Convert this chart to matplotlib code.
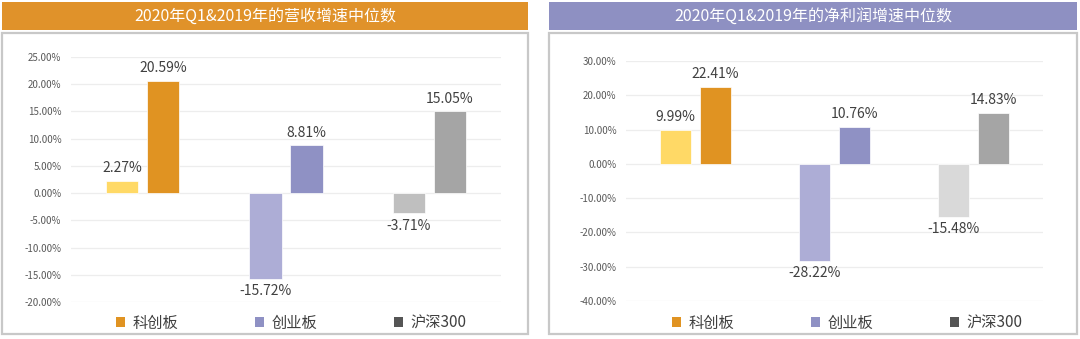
import numpy as np
import matplotlib
matplotlib.use("Agg")
import matplotlib.pyplot as plt
from matplotlib.patches import Rectangle, Patch
from matplotlib.ticker import FuncFormatter

plt.rcParams["font.family"] = ["Noto Sans CJK SC", "DejaVu Sans"]

# data (percent)
categories = ["科创板", "创业板", "沪深300"]
rev_2020q1 = [2.27, -15.72, -3.71]
rev_2019 = [20.59, 8.81, 15.05]
np_2020q1 = [9.99, -28.22, -15.48]
np_2019 = [22.41, 10.76, 14.83]

titles = ["2020年Q1&2019年的营收增速中位数", "2020年Q1&2019年的净利润增速中位数"]
rev_ticks = [-20, -15, -10, -5, 0, 5, 10, 15, 20, 25]
np_ticks = [-40, -30, -20, -10, 0, 10, 20, 30]

# styles
light_colors_left = ["#FFD966", "#ADADD6", "#BFBFBF"]
light_colors_right = ["#FFD966", "#ADADD6", "#D9D9D9"]
dark_colors = ["#E09322", "#8F91C4", "#A5A5A5"]
legend_colors = ["#E09322", "#8F91C4", "#555555"]
title_colors = ["#E0922A", "#8E90C2"]

W, H = 1080, 339
fig = plt.figure(figsize=(W / 100, H / 100), dpi=100)


def fx(px):
    return px / W


def fy(py):
    return 1 - py / H


def panel(box_x0, box_x1, ax_x0, ax_x1, ax_top, ax_bot, title, title_color,
          light, dark, light_cols, ticks, legend_cx):
    # title bar
    fig.patches.append(Rectangle((fx(box_x0), fy(30)), fx(box_x1 - box_x0), fy(2) - fy(30),
                                 transform=fig.transFigure, facecolor=title_color,
                                 edgecolor="none", zorder=-1))
    fig.text(fx((box_x0 + box_x1) / 2), fy(16), title, color="white", fontsize=11.5,
             ha="center", va="center")
    # border box
    fig.patches.append(Rectangle((fx(box_x0), fy(334)), fx(box_x1 - box_x0), fy(33) - fy(334),
                                 transform=fig.transFigure, facecolor="none",
                                 edgecolor="#C8C8C8", linewidth=1.6, zorder=-1))

    ax = fig.add_axes([fx(ax_x0), fy(ax_bot), fx(ax_x1 - ax_x0), fy(ax_top) - fy(ax_bot)])
    ax.set_facecolor("none")
    x = np.arange(len(categories))
    w = 0.225
    off = 0.143
    b1 = ax.bar(x - off, light, w, color=light_cols, edgecolor="white", linewidth=0.5, zorder=3)
    b2 = ax.bar(x + off, dark, w, color=dark_colors, edgecolor="white", linewidth=0.5, zorder=3)
    for bars in (b1, b2):
        for rect in bars:
            v = rect.get_height()
            cx = rect.get_x() + rect.get_width() / 2
            ax.annotate(f"{v:.2f}%", (cx, v), xytext=(0, 4 if v >= 0 else -4),
                        textcoords="offset points", ha="center",
                        va="bottom" if v >= 0 else "top", fontsize=10, color="#404040")
    ax.set_xlim(-0.5, len(categories) - 0.5)
    ax.set_ylim(ticks[0], ticks[-1])
    ax.set_yticks(ticks)
    ax.yaxis.set_major_formatter(FuncFormatter(lambda v, p: f"{v:.2f}%"))
    ax.tick_params(axis="y", length=0, pad=7, labelsize=7, labelcolor="#595959")
    ax.set_xticks([])
    ax.grid(axis="y", color="#EDEDED", linewidth=0.9, zorder=0)
    for s in ax.spines.values():
        s.set_visible(False)

    handles = [Patch(facecolor=c, edgecolor="none") for c in legend_colors]
    fig.legend(handles, categories, loc="center", bbox_to_anchor=(fx(legend_cx), fy(323)),
               ncol=3, frameon=False, fontsize=11, handlelength=0.6, handleheight=0.6,
               handletextpad=0.5, columnspacing=5.0, labelcolor="#404040")
    return ax


panel(2, 528, 71, 501, 57, 302, titles[0], title_colors[0],
      rev_2020q1, rev_2019, light_colors_left, rev_ticks, 291)
panel(549, 1077, 626, 1043, 61, 301, titles[1], title_colors[1],
      np_2020q1, np_2019, light_colors_right, np_ticks, 847)

fig.savefig("out.png", dpi=100, facecolor="white")
